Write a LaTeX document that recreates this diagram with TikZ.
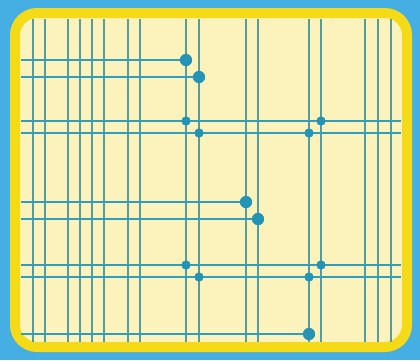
\documentclass[tikz,border=0pt]{standalone}
\definecolor{skyblue}{HTML}{45AEE3}
\definecolor{frameyellow}{HTML}{F5DA18}
\definecolor{boardcream}{HTML}{FBF2BC}
\definecolor{wireteal}{HTML}{559C9E}
\definecolor{busblue}{HTML}{2F9DC0}
\definecolor{viablue}{HTML}{2394B5}
\usepackage{tikz}
\usetikzlibrary{positioning}

\begin{document}
\begin{tikzpicture}[x=1pt, y=-1pt,
  vwire/.style={draw=wireteal, line width=2.2pt},
  hwire/.style={draw=busblue, line width=2.6pt},
  via/.style={circle, fill=viablue, minimum size=12pt, inner sep=0pt},
  crossvia/.style={via, minimum size=9pt},
]
  \fill[skyblue] (0,0) rectangle (420,360);
  \useasboundingbox (0,0) rectangle (420,360);
  \draw[frameyellow, line width=10pt, fill=boardcream, rounded corners=22pt]
    (15,13) rectangle (407,347);

  % vertical wires
  \foreach \x [count=\i] in {33,45,68,80,92,104,128,140,186,199,246,258,309,321,365,378,391} {
    \coordinate (top\i) at (\x,19);
    \coordinate (bot\i) at (\x,342);
    \draw[vwire] (top\i) -- (bot\i);
  }

  % vias
  \node[via] (va) at (186,60) {};
  \node[via] (vb) at (199,77) {};
  \node[via] (vc) at (246,202) {};
  \node[via] (vd) at (258,219) {};
  \node[via] (ve) at (309,334) {};
  \node[crossvia] (x1) at (186,121) {};
  \node[crossvia] (x2) at (321,121) {};
  \node[crossvia] (x3) at (199,133) {};
  \node[crossvia] (x4) at (309,133) {};
  \node[crossvia] (x5) at (186,265) {};
  \node[crossvia] (x6) at (321,265) {};
  \node[crossvia] (x7) at (199,277) {};
  \node[crossvia] (x8) at (309,277) {};

  % horizontal wires ending at a via
  \foreach \y/\v in {60/va,77/vb,202/vc,219/vd,334/ve} {
    \coordinate (in\v) at (21,\y);
    \draw[hwire] (in\v) -- (\v.center);
  }
  % horizontal wires across the board
  \foreach \y [count=\j] in {121,133,265,277} {
    \coordinate (west\j) at (21,\y);
    \coordinate (east\j) at (401,\y);
    \draw[hwire] (west\j) -- (east\j);
  }
  \foreach \n in {va,vb,vc,vd,ve}
    \node[via] at (\n) {};
  \foreach \n in {x1,x2,x3,x4,x5,x6,x7,x8}
    \node[crossvia] at (\n) {};
\end{tikzpicture}
\end{document}
